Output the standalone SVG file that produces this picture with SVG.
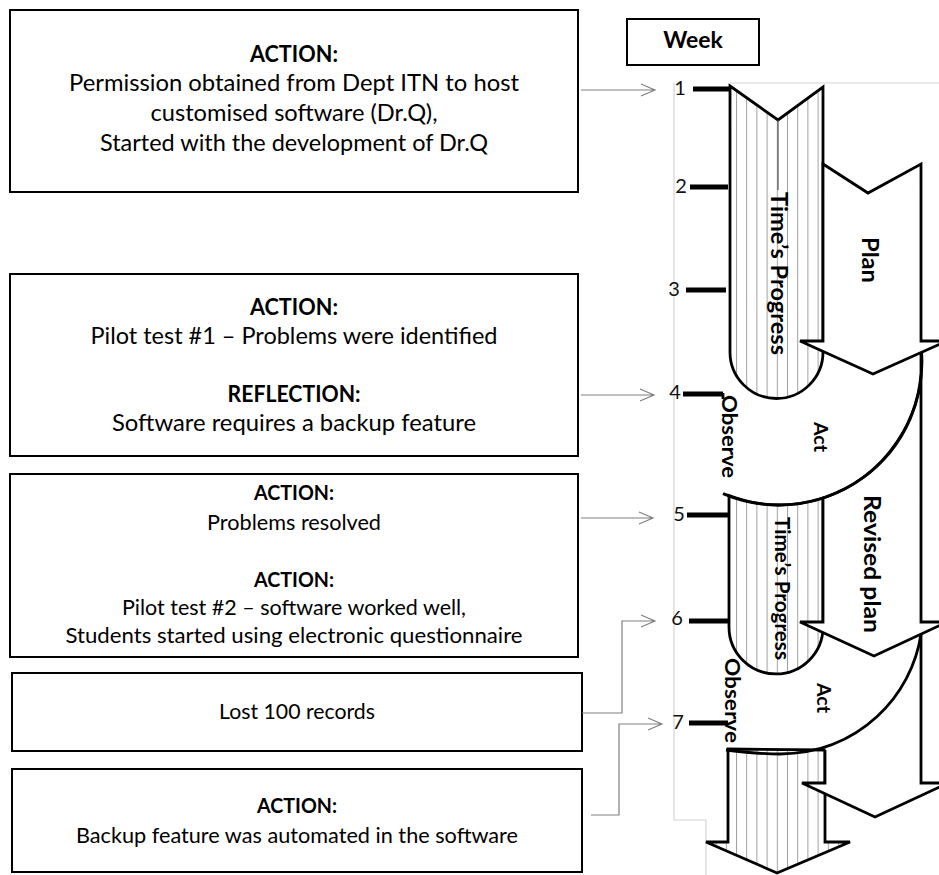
<svg xmlns="http://www.w3.org/2000/svg" width="939" height="875" viewBox="0 0 939 875">
  <style>
    .box { fill: #fff; stroke: #000; stroke-width: 2; }
    .t { font-family: Lato, "Liberation Sans", sans-serif; fill: #000; text-anchor: middle; }
    .lg { font-size: 23px; }
    .sm { font-size: 21px; }
    .b { font-weight: bold; }
    .conn { fill: none; stroke: #808080; stroke-width: 1.2; }
    .ink { stroke: #000; stroke-width: 2.8; stroke-linejoin: miter; }
    .hatched { fill: url(#hatch); }
    .white { fill: #fff; }
    .tick { stroke: #000; stroke-width: 5; }
    .num { font-family: Lato, "Liberation Sans", sans-serif; font-size: 20px; fill: #111; text-anchor: middle; }
    .lab { font-family: Lato, "Liberation Sans", sans-serif; font-weight: bold; fill: #000; }
    .frame { fill: none; stroke: #d4d4d4; stroke-width: 1.2; }
  </style>
  <defs>
    <pattern id="hatch" x="736" y="0" width="10.2" height="10" patternUnits="userSpaceOnUse">
      <rect width="10.2" height="10" fill="#fff"/>
      <line x1="0.5" y1="0" x2="0.5" y2="10" stroke="#a0a0a0" stroke-width="1"/>
    </pattern>
  </defs>
  <rect width="939" height="875" fill="#fff"/>

  <!-- left column: event boxes -->
  <g id="box-week1">
    <rect class="box" x="10" y="10" width="568" height="182"/>
    <text class="t lg b" x="294" y="62" textLength="88" lengthAdjust="spacingAndGlyphs">ACTION:</text>
    <text class="t lg" x="294" y="91" textLength="450" lengthAdjust="spacingAndGlyphs">Permission obtained from Dept ITN to host</text>
    <text class="t lg" x="294" y="121" textLength="287" lengthAdjust="spacingAndGlyphs">customised software (Dr.Q),</text>
    <text class="t lg" x="294" y="151" textLength="388" lengthAdjust="spacingAndGlyphs">Started with the development of Dr.Q</text>
  </g>
  <g id="box-week4">
    <rect class="box" x="10" y="274" width="568" height="182"/>
    <text class="t lg b" x="294" y="315" textLength="88" lengthAdjust="spacingAndGlyphs">ACTION:</text>
    <text class="t lg" x="294" y="344" textLength="407" lengthAdjust="spacingAndGlyphs">Pilot test #1 – Problems were identified</text>
    <text class="t lg b" x="294" y="402" textLength="133" lengthAdjust="spacingAndGlyphs">REFLECTION:</text>
    <text class="t lg" x="294" y="431" textLength="364" lengthAdjust="spacingAndGlyphs">Software requires a backup feature</text>
  </g>
  <g id="box-week5">
    <rect class="box" x="10" y="474" width="568" height="183"/>
    <text class="t sm b" x="294" y="500" textLength="80" lengthAdjust="spacingAndGlyphs">ACTION:</text>
    <text class="t sm" x="294" y="530" textLength="174" lengthAdjust="spacingAndGlyphs">Problems resolved</text>
    <text class="t sm b" x="294" y="587" textLength="80" lengthAdjust="spacingAndGlyphs">ACTION:</text>
    <text class="t sm" x="294" y="615" textLength="344" lengthAdjust="spacingAndGlyphs">Pilot test #2 – software worked well,</text>
    <text class="t sm" x="294" y="643" textLength="457" lengthAdjust="spacingAndGlyphs">Students started using electronic questionnaire</text>
  </g>
  <g id="box-week6">
    <rect class="box" x="12" y="673" width="570" height="78"/>
    <text class="t sm" x="297" y="719" textLength="156" lengthAdjust="spacingAndGlyphs">Lost 100 records</text>
  </g>
  <g id="box-week7">
    <rect class="box" x="12" y="769" width="570" height="103"/>
    <text class="t sm b" x="297" y="813" textLength="80" lengthAdjust="spacingAndGlyphs">ACTION:</text>
    <text class="t sm" x="297" y="843" textLength="442" lengthAdjust="spacingAndGlyphs">Backup feature was automated in the software</text>
  </g>
  <g id="box-week-title">
    <rect class="box" x="627" y="19" width="132" height="46"/>
    <text class="t b" x="693" y="48" font-size="23">Week</text>
  </g>

  <!-- connectors from the boxes to the week scale -->
  <g id="connectors">
    <path class="conn" d="M581,90 H655 M641,84 L655,90 L641,96"/>
    <path class="conn" d="M581,395 H654 M640,389 L654,395 L640,401"/>
    <path class="conn" d="M581,518 H653 M639,512 L653,518 L639,524"/>
    <path class="conn" d="M582,713 H622 V621 H655 M641,615 L655,621 L641,627"/>
    <path class="conn" d="M591,815 H619 V724 H662 M648,718 L662,724 L648,730"/>
  </g>

  <!-- action research spiral -->
  <g id="spiral">
    <path class="frame" d="M730,83 H939 M674,83 V820 H706 V875"/>

    <!-- cycle 1: time's progress shaft -->
    <path class="ink hatched" d="M730,86 L778,120 L823,87 L823,352 A46.5,46.5 0 0 1 730,352 Z"/>
    <line x1="778" y1="120" x2="778" y2="190" stroke="#555" stroke-width="1.2"/>
    <!-- plan arrow -->
    <path class="ink white" d="M823,164 L868,193 L921,164 L921,341 L947,341 L873,374 L800,341 L823,341 Z"/>

    <!-- cycle 2: time's progress shaft -->
    <path class="ink hatched" d="M729,495.5 L729,627 A47,47 0 0 0 823,627 L823,498 A143,143 0 0 1 729,495.5 Z"/>
    <!-- revised plan arrow -->
    <path class="ink white" d="M823,498 L823,622 L800,622 L874,656 L947,622 L921,622 L921,352 A143,143 0 0 1 823,498 Z"/>
    <!-- act sweep, cycle 1 -->
    <path class="ink" fill="none" d="M921.6,352 A143,143 0 0 1 723,493.6"/>
    <line class="ink" x1="723" y1="393" x2="723" y2="399"/>

    <!-- cycle 3: time's progress arrow -->
    <path class="ink hatched" d="M728,749 L728,842 L706,842 L777,873 L850,842 L825,842 L825,750 Z"/>
    <!-- following plan arrow -->
    <path class="white" d="M825,750 L825,783 L802,783 L875,817 L948,783 L921,783 L921,634 Z"/>
    <path class="ink" fill="none" d="M825,750 L825,783 L802,783 L875,817 L948,783 L921,783 L921,634"/>
    <!-- act sweep, cycle 2 -->
    <path class="ink" fill="none" d="M921,634 C912,695 860,753 780,754 C760,754 742,752 726,750"/>

    <!-- labels along the spiral -->
    <text class="lab" font-size="22" transform="translate(771,192) rotate(90)" textLength="163" lengthAdjust="spacingAndGlyphs">Time’s Progress</text>
    <text class="lab" font-size="22" transform="translate(862,237) rotate(90)" textLength="46" lengthAdjust="spacingAndGlyphs">Plan</text>
    <text class="lab" font-size="19" transform="translate(814,422) rotate(90)" textLength="30" lengthAdjust="spacingAndGlyphs">Act</text>
    <text class="lab" font-size="20" transform="translate(722,395) rotate(90)" textLength="83" lengthAdjust="spacingAndGlyphs">Observe</text>
    <text class="lab" font-size="22" transform="translate(864,495) rotate(90)" textLength="138" lengthAdjust="spacingAndGlyphs">Revised plan</text>
    <text class="lab" font-size="20" transform="translate(775,517) rotate(90)" textLength="143" lengthAdjust="spacingAndGlyphs">Time’s Progress</text>
    <text class="lab" font-size="19" transform="translate(817,683) rotate(90)" textLength="30" lengthAdjust="spacingAndGlyphs">Act</text>
    <text class="lab" font-size="20" transform="translate(725,658) rotate(90)" textLength="85" lengthAdjust="spacingAndGlyphs">Observe</text>
  </g>

  <!-- week scale -->
  <g id="week-scale">
    <line class="tick" x1="693" y1="89" x2="730" y2="89"/>
    <line class="tick" x1="690" y1="187" x2="728" y2="187"/>
    <line class="tick" x1="686" y1="290" x2="726" y2="290"/>
    <line class="tick" x1="683" y1="394" x2="723" y2="394"/>
    <line class="tick" x1="687" y1="515" x2="728" y2="515"/>
    <line class="tick" x1="689" y1="621" x2="728" y2="621"/>
    <line class="tick" x1="689" y1="723" x2="728" y2="723"/>
    <text class="num" x="680" y="95">1</text>
    <text class="num" x="681" y="193">2</text>
    <text class="num" x="674" y="296">3</text>
    <text class="num" x="675" y="399">4</text>
    <text class="num" x="679" y="521">5</text>
    <text class="num" x="677" y="625">6</text>
    <text class="num" x="678" y="729">7</text>
  </g>
</svg>
